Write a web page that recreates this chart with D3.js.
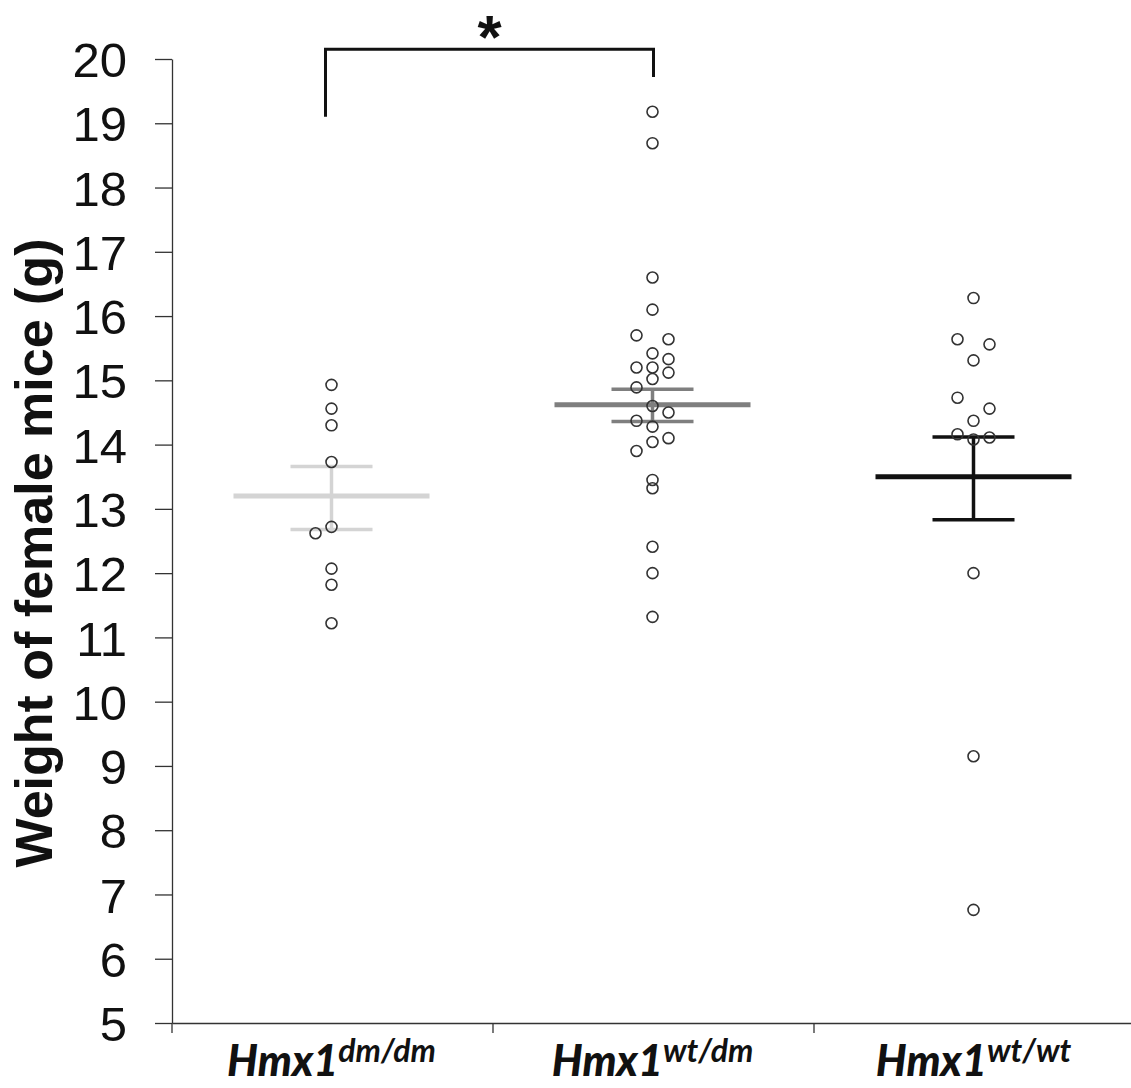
<!DOCTYPE html>
<html>
<head>
<meta charset="utf-8">
<script src="https://cdn.jsdelivr.net/npm/d3@7"></script>
<style>
  body { margin: 0; background: #fff; }
  svg { display: block; }
  .y-axis text { font-family: "Liberation Sans", Arial, sans-serif; font-size: 49px; fill: #111; }
  .y-axis path, .y-axis line, .x-axis path { stroke: #333; stroke-width: 1.3; }
</style>
</head>
<body>
<div id="chart"></div>
<script>
// genotype groups
const groups = ["dm/dm", "wt/dm", "wt/wt"];
const groupColors = ["#d4d4d4", "#7f7f7f", "#111111"];

// individual weights (g), with dot-plot column
const weightsDmDm = [14.93, 14.56, 14.30, 13.73, 12.72, 12.62, 12.07, 11.82, 11.22];
const colsDmDm    = ["C", "C", "C", "C", "C", "L", "C", "C", "C"];

const weightsWtDm = [19.18, 18.69, 16.60, 16.10, 15.70, 15.64, 15.42, 15.33, 15.20, 15.20, 15.12,
                     15.02, 14.89, 14.60, 14.50, 14.37, 14.28, 14.10, 14.04, 13.90, 13.45, 13.32,
                     12.41, 12.00, 11.32];
const colsWtDm    = ["C", "C", "C", "C", "L", "R", "C", "R", "L", "C", "R",
                     "C", "L", "C", "R", "L", "C", "R", "C", "L", "C", "C",
                     "C", "C", "C"];

const weightsWtWt = [16.28, 15.64, 15.56, 15.31, 14.73, 14.56, 14.37, 14.16, 14.11, 14.08, 12.00, 9.15, 6.76];
const colsWtWt    = ["C", "L", "R", "C", "L", "R", "C", "L", "R", "C", "C", "C", "C"];

// mean and SEM bars
const means    = [13.20, 14.62, 13.50];
const semUpper = [13.66, 14.86, 14.12];
const semLower = [12.68, 14.36, 12.83];

const yTicks = d3.range(5, 21);

// significance bracket: between groups, in grams
const sigPair = ["dm/dm", "wt/dm"];
const sigTop = 20.15, sigLeftEnd = 19.10, sigRightEnd = 19.72, sigStar = "*";

const width = 1131, height = 1088;
const margin = { top: 59, left: 172, bottom: 65 };

const svg = d3.select("#chart").append("svg")
    .attr("width", width)
    .attr("height", height);

const x = d3.scaleBand()
    .domain(groups)
    .range([margin.left, margin.left + 963])
    .padding(0);

const y = d3.scaleLinear()
    .domain([5, 20])
    .range([height - margin.bottom, margin.top]);

const col = d3.scalePoint()
    .domain(["L", "C", "R"])
    .range([-16, 16]);

const cx = g => x(g) + x.bandwidth() / 2 - 1;

// y axis
const yAxis = d3.axisLeft(y)
    .tickValues(yTicks)
    .tickSize(17)
    .tickSizeOuter(0)
    .tickPadding(28);

svg.append("g")
    .attr("class", "y-axis")
    .attr("transform", `translate(${margin.left},0)`)
    .call(yAxis)
    .selectAll("text")
    .attr("dy", "0.36em");

// x axis line + boundary ticks
const xAxisGroup = svg.append("g")
    .attr("class", "x-axis")
    .attr("transform", `translate(0,${y(5)})`);

xAxisGroup.call(d3.axisBottom(x).tickSize(0).tickSizeOuter(0).tickFormat(""));

xAxisGroup.selectAll(".bound")
    .data(groups)
    .enter().append("line")
    .attr("class", "bound")
    .attr("x1", d => x(d))
    .attr("x2", d => x(d))
    .attr("y1", 0)
    .attr("y2", 10)
    .attr("stroke", "#333")
    .attr("stroke-width", 1.3);

// x labels: Hmx1 with superscript genotype
const xLabels = svg.selectAll(".xlabel")
    .data(groups)
    .enter().append("text")
    .attr("class", "xlabel")
    .attr("x", d => cx(d))
    .attr("y", 1076)
    .attr("text-anchor", "middle")
    .style("font-family", "Lato, 'Open Sans', sans-serif")
    .style("font-weight", "bold")
    .style("font-style", "italic")
    .style("fill", "#111");

xLabels.append("tspan")
    .style("font-size", "43px")
    .style("font-weight", "900")
    .text("Hmx1");

xLabels.append("tspan")
    .attr("dy", -14)
    .style("font-size", "32px")
    .style("font-weight", "bold")
    .text(d => d);

// y axis title
svg.append("text")
    .attr("transform", `translate(52, ${(y(5) + y(20)) / 2 + 12}) rotate(-90)`)
    .attr("text-anchor", "middle")
    .style("font-family", "'Liberation Sans', Arial, sans-serif")
    .style("font-weight", "bold")
    .style("font-size", "52px")
    .style("fill", "#111")
    .text("Weight of female mice (g)");

// mean and SEM bars
const barData = groups.map((g, i) => ({ g, mean: means[i], hi: semUpper[i], lo: semLower[i], color: groupColors[i] }));

const bars = svg.selectAll(".sem")
    .data(barData)
    .enter().append("g")
    .attr("class", "sem");

bars.append("line")
    .attr("x1", d => cx(d.g)).attr("x2", d => cx(d.g))
    .attr("y1", d => y(d.hi)).attr("y2", d => y(d.lo))
    .attr("stroke", d => d.color)
    .attr("stroke-width", 3.5);

bars.append("line")
    .attr("x1", d => cx(d.g) - 98).attr("x2", d => cx(d.g) + 98)
    .attr("y1", d => y(d.mean)).attr("y2", d => y(d.mean))
    .attr("stroke", d => d.color)
    .attr("stroke-width", 5);

bars.selectAll(".cap")
    .data(d => [d.hi, d.lo].map(v => ({ v, g: d.g, color: d.color })))
    .enter().append("line")
    .attr("x1", d => cx(d.g) - 41).attr("x2", d => cx(d.g) + 41)
    .attr("y1", d => y(d.v)).attr("y2", d => y(d.v))
    .attr("stroke", d => d.color)
    .attr("stroke-width", 3.5);

// individual mice
const points = []
    .concat(weightsDmDm.map((v, i) => ({ g: groups[0], v, c: colsDmDm[i] })))
    .concat(weightsWtDm.map((v, i) => ({ g: groups[1], v, c: colsWtDm[i] })))
    .concat(weightsWtWt.map((v, i) => ({ g: groups[2], v, c: colsWtWt[i] })));

svg.selectAll(".dot")
    .data(points)
    .enter().append("circle")
    .attr("class", "dot")
    .attr("cx", d => cx(d.g) + col(d.c))
    .attr("cy", d => y(d.v))
    .attr("r", 5.5)
    .attr("fill", "none")
    .attr("stroke", "#333")
    .attr("stroke-width", 1.6);

// significance bracket
const sx1 = cx(sigPair[0]) - 6, sx2 = cx(sigPair[1]) + 1;
svg.append("path")
    .attr("d", `M${sx1},${y(sigLeftEnd)} V${y(sigTop)} H${sx2} V${y(sigRightEnd)}`)
    .attr("fill", "none")
    .attr("stroke", "#111")
    .attr("stroke-width", 3);

svg.append("text")
    .attr("x", (sx1 + sx2) / 2)
    .attr("y", 58)
    .attr("text-anchor", "middle")
    .style("font-family", "'Liberation Sans', Arial, sans-serif")
    .style("font-weight", "bold")
    .style("font-size", "62px")
    .style("fill", "#111")
    .text(sigStar);
</script>
</body>
</html>
